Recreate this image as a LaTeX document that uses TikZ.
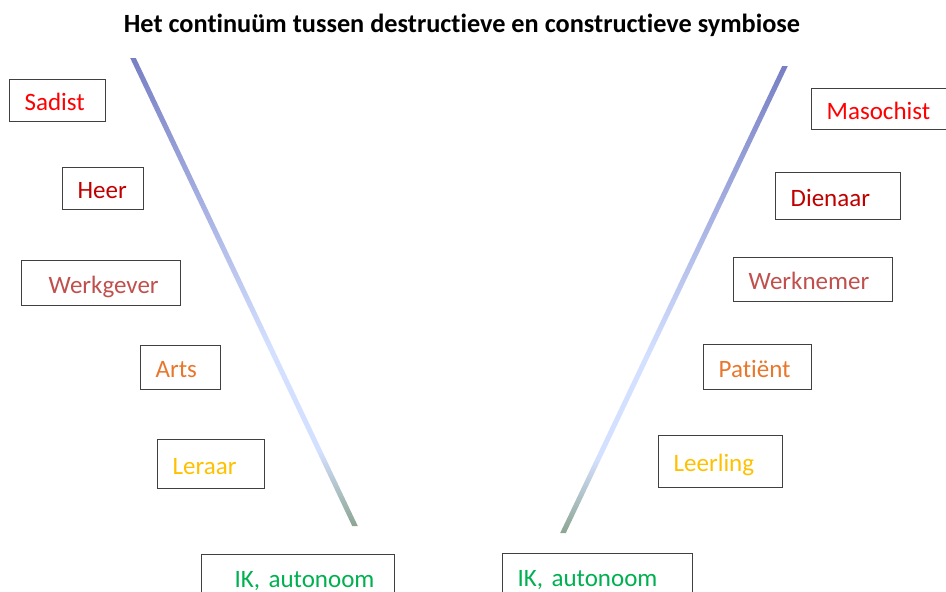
\documentclass[tikz,border=0pt]{standalone}
\usepackage{fontspec}
\setmainfont{Carlito}[RawFeature=-liga]
\usetikzlibrary{calc}
\frenchspacing

\definecolor{boxgray}{HTML}{404040}
\definecolor{rood}{HTML}{FF0000}
\definecolor{donkerrood}{HTML}{C00000}
\definecolor{roze}{HTML}{C0504D}
\definecolor{oranje}{HTML}{E8772E}
\definecolor{geel}{HTML}{FFC000}
\definecolor{groen}{HTML}{00B050}
\definecolor{lijntop}{HTML}{7880C4}
\definecolor{lijnmid}{HTML}{D4E0FF}
\definecolor{lijnbot}{HTML}{8CA592}

\pgfdeclareverticalshading{lijn}{100bp}{color(0bp)=(lijnbot); color(25bp)=(lijnbot); color(33bp)=(lijnmid); color(44bp)=(lijnmid); color(75bp)=(lijntop); color(100bp)=(lijntop)}

\tikzset{
  rol/.code 2 args={\pgfmathsetmacro\rolw{#1-30}\pgfkeysalso{minimum width=#1pt, minimum height=#2pt, text width=\rolw pt}},
  rolbox/.style={draw=boxgray, line width=1.3pt, anchor=north west, inner xsep=15pt, inner ysep=0pt, align=left, text height=20pt, text depth=0pt, font=\fontsize{25}{30}\selectfont}
}

\begin{document}
\begin{tikzpicture}[x=1pt,y=-1pt]
\useasboundingbox (0,0) rectangle (946,592);
\clip (0,0) rectangle (946,592);

\node [font=\bfseries\fontsize{26.3}{30}\selectfont] (titel) at (462,25) {Het continuüm tussen destructieve en constructieve symbiose};

% links
\node [rolbox,rol={96}{42},text=rood] (sadist) at (9,79) {Sadist};
\node [rolbox,rol={81}{42},text=donkerrood] (heer) at (62,167) {Heer};
\node [rolbox,rol={159}{45},text=roze] (werkgever) at (21,260) {\hspace{12pt}Werkgever};
\node [rolbox,rol={80}{44},text=oranje] (arts) at (140,345) {Arts};
\node [rolbox,rol={107}{49},text=geel] (leraar) at (157,439) {Leraar};
\node [rolbox,rol={193}{45},text=groen] (ikl) at (201,554) {\hspace{18pt}IK, autonoom};

% rechts
\node [rolbox,rol={150}{41},text=rood] (masochist) at (811,88) {Masochist};
\node [rolbox,rol={125}{47},text=donkerrood] (dienaar) at (775,172) {Dienaar};
\node [rolbox,rol={159}{44},text=roze] (werknemer) at (733,257) {Werknemer};
\node [rolbox,rol={108}{45},text=oranje] (patient) at (703,344) {Patiënt};
\node [rolbox,rol={124}{52},text=geel] (leerling) at (658,435) {Leerling};
\node [rolbox,rol={190}{45},text=groen] (ikr) at (502,553) {IK, autonoom};

% de twee lijnen
\coordinate (lt) at (133,58);
\coordinate (lb) at (355,526);
\coordinate (rt) at (785,66);
\coordinate (rb) at (563,533);
\shade[shading=lijn] ($(lt)+(-2.8,0)$) -- ($(lt)+(2.8,0)$) -- ($(lb)+(2.8,0)$) -- ($(lb)+(-2.8,0)$) -- cycle;
\shade[shading=lijn] ($(rt)+(-2.8,0)$) -- ($(rt)+(2.8,0)$) -- ($(rb)+(2.8,0)$) -- ($(rb)+(-2.8,0)$) -- cycle;

\end{tikzpicture}
\end{document}
